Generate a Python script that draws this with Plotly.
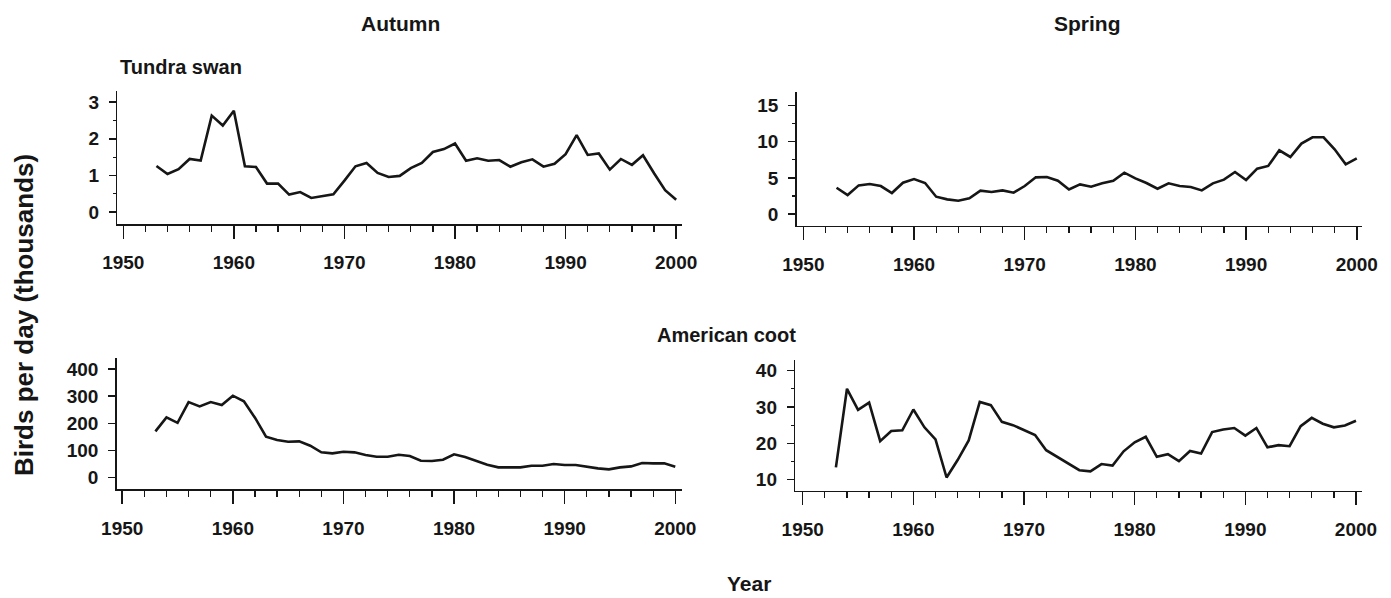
import plotly.graph_objects as go

W, H = 1391, 598

years = list(range(1953, 2001))

swan_autumn = [1.26, 1.04, 1.17, 1.45, 1.41, 2.63, 2.36, 2.76, 1.25, 1.23,
               0.78, 0.78, 0.48, 0.55, 0.39, 0.44, 0.49, 0.86, 1.25, 1.34,
               1.07, 0.96, 0.99, 1.20, 1.34, 1.64, 1.72, 1.87, 1.40, 1.47,
               1.40, 1.42, 1.24, 1.36, 1.44, 1.24, 1.32, 1.58, 2.10, 1.56,
               1.60, 1.16, 1.45, 1.29, 1.55, 1.06, 0.60, 0.34]

swan_spring = [3.64, 2.63, 3.96, 4.15, 3.87, 2.90, 4.33, 4.84, 4.29, 2.40,
               2.03, 1.84, 2.17, 3.23, 3.04, 3.27, 2.95, 3.87, 5.07, 5.12,
               4.61, 3.40, 4.10, 3.78, 4.24, 4.61, 5.71, 4.93, 4.29, 3.50,
               4.24, 3.87, 3.73, 3.27, 4.24, 4.75, 5.81, 4.70, 6.27, 6.64,
               8.80, 7.88, 9.72, 10.6, 10.6, 8.94, 6.87, 7.70]

coot_autumn = [170.6, 222, 202, 278.5, 262.6, 278.5, 267.5, 301.8, 281, 220.9,
               151, 138.7, 132.5, 133.7, 117.8, 93.3, 89.6, 95.7, 93.3, 83.4,
               77.3, 77, 84.7, 79.8, 62.6, 61.3, 66.3, 85.9, 76, 62.6,
               47.9, 38, 38, 38, 44.2, 44.2, 50.3, 46.6, 46.6, 39.3,
               34.4, 30.7, 38, 41.7, 54, 52.8, 52.8, 40.5]

coot_spring = [13.4, 35.0, 29.2, 31.2, 20.6, 23.4, 23.6, 29.3, 24.4, 21.1,
               10.6, 15.4, 20.8, 31.4, 30.5, 25.9, 25.0, 23.7, 22.3, 18.1,
               16.3, 14.6, 12.6, 12.3, 14.3, 13.9, 17.8, 20.3, 21.8, 16.3,
               17.0, 15.1, 17.9, 17.2, 23.1, 23.8, 24.2, 22.1, 24.2, 18.9,
               19.5, 19.2, 24.7, 27.0, 25.4, 24.4, 24.9, 26.2]

x_ticks = [1950, 1960, 1970, 1980, 1990, 2000]
y_ticks_swan_autumn = [0, 1, 2, 3]
y_ticks_swan_spring = [0, 5, 10, 15]
y_ticks_coot_autumn = [0, 100, 200, 300, 400]
y_ticks_coot_spring = [10, 20, 30, 40]

col_titles = ["Autumn", "Spring"]
row_titles = ["Tundra swan", "American coot"]
x_title = "Year"
y_title = "Birds per day (thousands)"

FONT = "Liberation Sans, Arial, sans-serif"
INK = "#161616"
WEIGHT = "bold"

def px_x(p):
    return p / W

def px_y(p):
    return 1 - p / H

# panel geometry in pixels: (x0, x1, ytop, ybottom)
panels = [
    (117.3, 681.7, 91.0, 224.0),
    (796.7, 1362.3, 92.3, 225.7),
    (116.7, 681.7, 357.7, 489.3),
    (795.3, 1362.3, 359.7, 490.7),
]
xranges = [[1949.46, 2000.5], [1949.4, 2000.5], [1949.5, 2000.58], [1949.33, 2000.57]]
yranges = [[-0.32, 3.3], [-1.6, 16.8], [-42.7, 441.7], [6.97, 43.0]]
yticks = [y_ticks_swan_autumn, y_ticks_swan_spring, y_ticks_coot_autumn, y_ticks_coot_spring]
yminor = [0.5, 2.5, None, 5]
series = [swan_autumn, swan_spring, coot_autumn, coot_spring]

fig = go.Figure()
layout = dict(
    template="none",
    width=W, height=H,
    margin=dict(l=0, r=0, t=0, b=0, pad=0),
    autosize=False,
    paper_bgcolor="white", plot_bgcolor="white",
    showlegend=False,
    font=dict(family=FONT, color=INK, size=20),
)

for i, (x0, x1, yt, yb) in enumerate(panels):
    n = "" if i == 0 else str(i + 1)
    fig.add_trace(go.Scatter(
        x=years, y=series[i], mode="lines",
        line=dict(color=INK, width=2.6),
        xaxis="x" + n, yaxis="y" + n, hoverinfo="skip"))
    layout["xaxis" + n] = dict(
        domain=[px_x(x0), px_x(x1)], range=xranges[i], anchor="y" + n,
        automargin=False,
        showgrid=False, zeroline=False, showline=True, linecolor=INK, linewidth=1.5,
        ticks="outside", ticklen=13, tickwidth=1.5, tickcolor=INK,
        tickvals=x_ticks, ticktext=[str(v) for v in x_ticks],
        ticklabelstandoff=8,
        tickfont=dict(family=FONT, size=19, color=INK, weight=WEIGHT),
        minor=dict(dtick=2, tick0=1950, ticks="outside", ticklen=6, tickwidth=1.3, tickcolor=INK),
    )
    ydict = dict(
        domain=[px_y(yb), px_y(yt)], range=yranges[i], anchor="x" + n,
        automargin=False,
        showgrid=False, zeroline=False, showline=True, linecolor=INK, linewidth=1.5,
        ticks="outside", ticklen=7, tickwidth=1.5, tickcolor=INK,
        tickvals=yticks[i], ticktext=[str(v) for v in yticks[i]],
        ticklabelstandoff=6,
        tickfont=dict(family=FONT, size=19, color=INK, weight=WEIGHT),
    )
    if yminor[i]:
        ydict["minor"] = dict(dtick=yminor[i], tick0=0, ticks="outside", ticklen=3,
                              tickwidth=1.2, tickcolor=INK)
    layout["yaxis" + n] = ydict

annotations = [
    dict(text=col_titles[0], x=px_x(400), y=px_y(24), size=21),
    dict(text=col_titles[1], x=px_x(1087), y=px_y(24), size=21),
    dict(text=row_titles[0], x=px_x(181), y=px_y(67), size=20),
    dict(text=row_titles[1], x=px_x(726), y=px_y(335), size=20),
    dict(text=x_title, x=px_x(749), y=px_y(583), size=21),
]
anns = []
for a in annotations:
    anns.append(dict(text=a["text"], x=a["x"], y=a["y"], xref="paper", yref="paper",
                     xanchor="center", yanchor="middle", showarrow=False,
                     font=dict(family=FONT, size=a["size"], color=INK, weight=WEIGHT)))
anns.append(dict(text=y_title, x=px_x(24), y=px_y(315), xref="paper", yref="paper",
                 xanchor="center", yanchor="middle", showarrow=False, textangle=-90,
                 font=dict(family=FONT, size=26, color=INK, weight=WEIGHT)))
layout["annotations"] = anns

fig.update_layout(**layout)
fig.write_html(
    "out.html",
    config={"displayModeBar": False, "staticPlot": True},
    post_script="document.body.style.margin='0';document.body.style.padding='0';"
                "document.body.style.overflow='hidden';",
)
